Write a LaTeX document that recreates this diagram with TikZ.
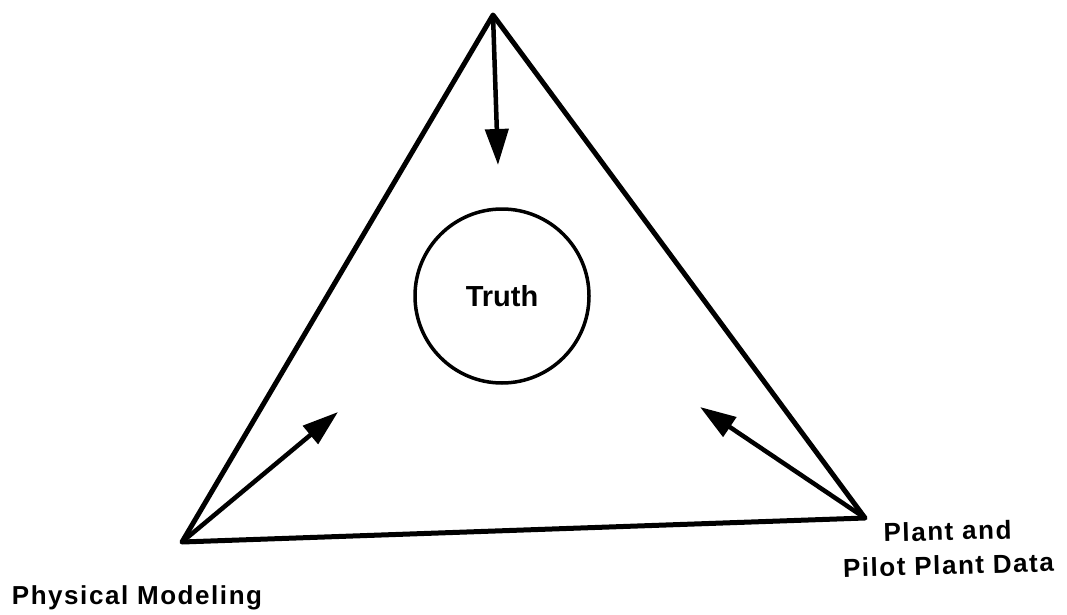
\documentclass[tikz,border=0pt]{standalone}
\usepackage{fontspec}
\setmainfont{Liberation Sans}
\usetikzlibrary{arrows.meta}
\begin{document}
\begin{tikzpicture}[x=1pt,y=-1pt,
  edge/.style={line width=5pt,line join=round,line cap=round},
  pointer/.style={line width=4.5pt,-{Triangle[length=36pt,width=23pt]}},
  label/.style={font={\bfseries\addfontfeature{LetterSpace=6}\fontsize{26}{34}\selectfont},align=center,inner sep=0pt}]
\useasboundingbox (0,0) rectangle (1067,615);
\coordinate (top) at (493,15);
\coordinate (left) at (182,542);
\coordinate (right) at (865,518);
\coordinate (tt) at (498,165);
\coordinate (lt) at (338,412);
\coordinate (rt) at (700,407);
\draw[edge] (top) -- (left) -- (right) -- cycle;
\node[circle,draw,line width=3.5pt,minimum size=174pt,inner sep=0pt,font={\bfseries\fontsize{29}{32}\selectfont}] (truth) at (502,296) {Truth};
\draw[pointer] (top) -- (tt);
\draw[pointer] (left) -- (lt);
\draw[pointer] (right) -- (rt);
\node[label,anchor=base] (pm) at (137,604) {Physical Modeling};
\node[label,rotate=1.5] (pp) at (948,548) {Plant and\\Pilot Plant Data};
\end{tikzpicture}
\end{document}
